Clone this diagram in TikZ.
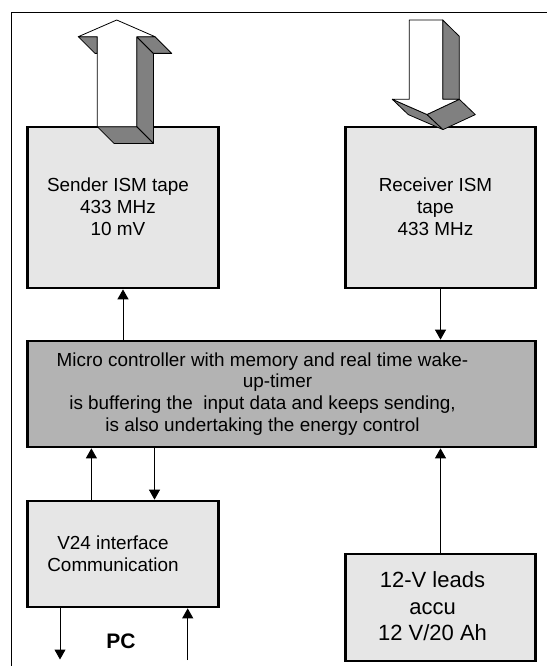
\documentclass[tikz,border=0pt]{standalone}
\usepackage{fontspec}
\setmainfont{Liberation Sans}
\usetikzlibrary{arrows.meta}
\definecolor{boxfill}{HTML}{E6E6E6}
\definecolor{midfill}{HTML}{B3B3B3}
\definecolor{shade}{HTML}{808080}
\begin{document}
\begin{tikzpicture}[x=1pt,y=-1pt,
  blockbox/.style={draw=black, line width=2.7pt, fill=boxfill, rectangle, inner sep=0pt},
  txt/.style={align=center, inner sep=0pt, font=\fontsize{18.9}{21.8}\selectfont},
  bigtxt/.style={align=center, inner sep=0pt, font=\fontsize{22}{26.5}\selectfont},
  conn/.style={line width=1pt, -{Triangle[width=11pt,length=10pt]}},
  face/.style={draw=black, line width=0.8pt, fill=shade, line join=round},
  front/.style={draw=black, line width=0.8pt, fill=white, line join=round}]
\useasboundingbox (0,0) rectangle (547,666);
\fill[white] (0,0) rectangle (547,666);
% outer frame
\draw[line width=1.2pt] (11.5,666) -- (11.5,12.3) -- (547,12.3);

% blocks
\node[blockbox, minimum width=191pt, minimum height=161pt] (sender) at (123,207.5) {};
\node[blockbox, minimum width=190pt, minimum height=161pt] (receiver) at (440.5,207.5) {};
\node[blockbox, fill=midfill, minimum width=508pt, minimum height=106pt] (micro) at (281.5,394) {};
\node[blockbox, minimum width=191pt, minimum height=106pt] (v24) at (123,554) {};
\node[blockbox, minimum width=190pt, minimum height=107pt] (accu) at (440.5,607.5) {};

% texts
\node[txt] (sendertxt) at ([xshift=-5pt,yshift=1pt]sender.center) {Sender ISM tape\\433 MHz\\10 mV};
\node[txt] (receivertxt) at ([xshift=-5pt,yshift=1pt]receiver.center) {Receiver ISM\\tape\\433 MHz};
\node[txt] (microtxt) at ([xshift=-19pt]micro.center) {Micro controller with memory and real time wake-\\\hspace*{30pt}up-timer\\is buffering the\ \ input data and keeps sending,\\is also undertaking the energy control};
\node[txt] (v24txt) at ([xshift=-10pt]v24.center) {V24 interface\\Communication};
\node[bigtxt] (accutxt) at ([xshift=-8pt,yshift=1pt]accu.center) {12-V leads\\accu\\12 V/20 Ah};
\node[font=\fontsize{21}{25}\selectfont\bfseries, inner sep=0pt] (pc) at (121,641) {PC};

% connectors
\draw[conn] (micro.north -| sender.south) -- (sender.south);
\draw[conn] (receiver.south) -- (receiver.south |- micro.north);
\draw[conn] ([xshift=-31.6pt]v24.north) -- ([xshift=-31.6pt]v24.north |- micro.south);
\draw[conn] ([xshift=31.5pt]v24.north |- micro.south) -- ([xshift=31.5pt]v24.north);
\draw[conn] (accu.north) -- (accu.north |- micro.south);
\coordinate (pcout) at (60,659.5);
\coordinate (pcin) at (187.7,660);
\draw[conn] (v24.south -| pcout) -- (pcout);
\draw[conn] (pcin) -- (pcin |- v24.south);

% big 3D up arrow (sender)
\draw[face] (136.7,36.7) -- (153.4,53.4) -- (153.4,143.4) -- (136.7,126.7) -- cycle;
\draw[face] (136.7,36.7) -- (155,36.7) -- (171.7,53.4) -- (153.4,53.4) -- cycle;
\draw[face] (78.3,36.7) -- (97.3,36.7) -- (97.3,53.4) -- (95,53.4) -- cycle;
\draw[face] (97.3,126.7) -- (136.7,126.7) -- (153.4,143.4) -- (114,143.4) -- cycle;
\draw[front] (116.7,20) -- (155,36.7) -- (136.7,36.7) -- (136.7,126.7) -- (97.3,126.7) -- (97.3,36.7) -- (78.3,36.7) -- cycle;

% big 3D down arrow (receiver)
\draw[face] (442.7,20) -- (459.3,36.3) -- (459.3,99.3) -- (442.7,99.3) -- cycle;
\draw[face] (392.3,99.3) -- (427,114.5) -- (443,129.6) -- (408.3,114.6) -- cycle;
\draw[face] (427,114.5) -- (459.3,99.3) -- (475.3,114.6) -- (443,129.6) -- cycle;
\draw[front] (409.3,20) -- (442.7,20) -- (442.7,99.3) -- (459.3,99.3) -- (427,114.5) -- (392.3,99.3) -- (409.3,99.3) -- cycle;
\end{tikzpicture}
\end{document}
